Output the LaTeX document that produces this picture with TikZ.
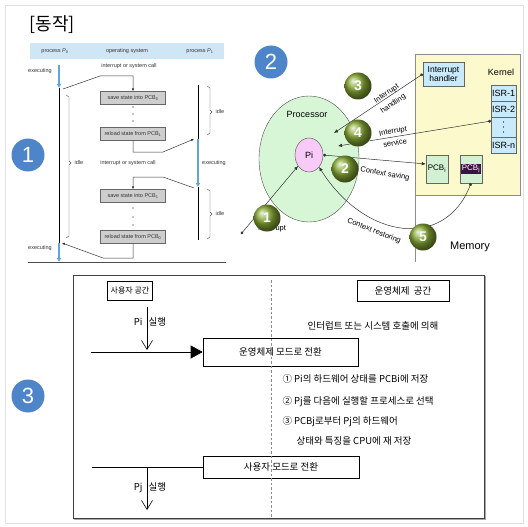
\documentclass[tikz,border=0pt]{standalone}
\usepackage{amsmath}
\usepackage{fontspec}
\setmainfont{Liberation Sans}
\newfontfamily\kr{Noto Sans CJK KR}
\usetikzlibrary{arrows.meta,shapes.geometric}

\definecolor{hdrblue}{RGB}{207,230,246}
\definecolor{stategray}{RGB}{206,206,206}
\definecolor{badgeblue}{RGB}{78,132,200}
\definecolor{ballgreen}{RGB}{136,170,52}
\definecolor{procgreen}{RGB}{214,246,214}
\definecolor{pipink}{RGB}{248,202,248}
\definecolor{kernyellow}{RGB}{252,250,204}
\definecolor{isrblue}{RGB}{200,234,250}
\definecolor{pcbgreen}{RGB}{210,240,210}
\definecolor{pcbpurple}{RGB}{64,16,64}
\definecolor{execblue}{RGB}{96,164,222}

\tikzset{
    badge/.style={circle, fill=badgeblue, text=white, minimum size=33pt, inner sep=0pt, font=\fontsize{22}{22}\selectfont},
    gball/.style={circle, shading=ball, ball color=ballgreen, text=white, minimum size=27pt, inner sep=0pt, font=\bfseries\fontsize{14}{14}\selectfont},
    smalltxt/.style={font=\fontsize{5.5}{6}\selectfont, text=black!80},
    statebox/.style={draw=black!60, fill=stategray, minimum width=65pt, minimum height=13pt, inner sep=0pt, smalltxt},
    exec/.style={draw=execblue, line width=2pt, -{Latex[length=4pt,width=5pt]}},
    flow/.style={black!80, line width=0.5pt, -{Latex[length=3pt,width=2.5pt]}},
    conn/.style={black!80, line width=0.5pt, {Circle[length=3pt]}-{Latex[length=4pt,width=3.5pt]}},
    lbl/.style={font=\fontsize{7.5}{8}\selectfont},
    isr/.style={draw=black!60, fill=isrblue, minimum width=25pt, minimum height=16pt, inner sep=0pt, font=\fontsize{9}{9}\selectfont},
    pcb/.style={draw=black!60, fill=pcbgreen, minimum width=22pt, minimum height=28pt, inner sep=0pt, font=\fontsize{8}{8}\selectfont},
    krtext/.style={font=\kr\fontsize{9.5}{10}\selectfont},
    krbox/.style={draw, line width=0.6pt, inner sep=0pt, krtext},
    vdown/.style={line width=0.6pt, -{Straight Barb[length=9pt,width=11pt]}},
}

\begin{document}
\begin{tikzpicture}[x=1pt, y=-1pt]
    \useasboundingbox (0,0) rectangle (528,527);
    \draw[black!12] (5,5) rectangle (523,523);

    % context switch timeline
    \node[font=\kr\fontsize{18}{18}\selectfont] (title) at (52,25) {[동작]};
    \fill[hdrblue] (30,43) rectangle (224,59);
    \node[smalltxt] (hp0) at (55,51) {process \textit{P}\textsubscript{0}};
    \node[smalltxt] (hos) at (127,51) {operating system};
    \node[smalltxt] (hp1) at (200,51) {process \textit{P}\textsubscript{1}};
    \node[smalltxt] (irq1) at (129,66) {interrupt or system call};
    \node[smalltxt] (irq2) at (128,163) {interrupt or system call};

    \node[statebox] (save0) at (133,98) {save state into PCB\textsubscript{0}};
    \node[statebox] (reload1) at (133,134) {reload state from PCB\textsubscript{1}};
    \node[statebox] (save1) at (133,196) {save state into PCB\textsubscript{1}};
    \node[statebox] (reload0) at (133,237) {reload state from PCB\textsubscript{0}};
    \foreach \y in {107,114,121,208,217,225}
        \fill (133,\y) circle[radius=0.7pt];

    \coordinate (p0top) at (59,65);
    \coordinate (p0a) at (59,88);
    \coordinate (p0b) at (59,243);
    \coordinate (p0bot) at (59,262);
    \coordinate (p1top) at (198,85);
    \coordinate (p1a) at (198,139);
    \coordinate (p1b) at (198,187);
    \coordinate (p1bot) at (198,240);
    \draw[exec] (p0top) -- (p0a);
    \draw[line width=1pt] (p0a) -- (p0b);
    \draw[exec] (p0b) -- (p0bot);
    \draw[line width=1pt] (p1top) -- (p1a);
    \draw[exec] (p1a) -- (p1b);
    \draw[line width=1pt] (p1b) -- (p1bot);
    \draw[black!70, line width=0.8pt] (28,262) -- (226,262);

    \node[smalltxt] (ex0) at (40,71) {executing};
    \node[smalltxt] (ex1) at (214,163) {executing};
    \node[smalltxt] (ex2) at (40,248) {executing};

    \coordinate (out0) at (63,89);
    \coordinate (in1) at (194,139);
    \coordinate (out1) at (194,188);
    \coordinate (in0) at (62,243);
    \draw[flow] (out0) -- (100,76) -| (save0.north);
    \draw[flow] (reload1.south) |- (163,152) -- (in1);
    \draw[flow] (out1) -- (163,177) -| (save1.north);
    \draw[flow] (reload0.south) |- (103,258) -- (in0);

    \draw[black!70, line width=0.4pt] (66,95) -- (69,97) -- (69,161) -- (71,163) -- (69,165) -- (69,236) -- (66,238);
    \draw[black!70, line width=0.4pt] (207,86) -- (210,88) -- (210,110) -- (212,112) -- (210,114) -- (210,133) -- (207,135);
    \draw[black!70, line width=0.4pt] (207,189) -- (210,191) -- (210,212) -- (212,214) -- (210,216) -- (210,237) -- (207,239);
    \node[smalltxt, anchor=west] (idle0) at (71,163) {idle};
    \node[smalltxt, anchor=west] (idle1) at (212,112) {idle};
    \node[smalltxt, anchor=west] (idle2) at (212,214) {idle};

    \node[badge] (n1) at (28,155) {1};

    % processor and memory
    \draw[black!45] (415,195) -- (415,262);
    \filldraw[draw=black!45, fill=kernyellow] (415,54) rectangle (520,195);
    \node[font=\fontsize{9}{9}\selectfont] (kernel) at (501,72) {Kernel};
    \node[draw=black!60, fill=isrblue, align=center, minimum width=41pt, minimum height=24pt, inner sep=0pt, font=\fontsize{8.5}{8.5}\selectfont] (handler) at (443.5,74) {Interrupt\\handler};
    \node[isr] (isr1) at (503.5,93) {ISR-1};
    \node[isr] (isr2) at (503.5,109) {ISR-2};
    \node[isr, minimum height=20pt] (isrdots) at (503.5,127) {};
    \node[isr] (isrn) at (503.5,145) {ISR-n};
    \foreach \y in {122,127,132}
        \fill (isrdots.center |- 0,\y) circle[radius=0.7pt];
    \node[pcb] (pcbi) at (437,169) {PCB\textsubscript{i}};
    \node[pcb] (pcbj) at (471,169) {};
    \node[fill=pcbpurple, text=white, inner sep=0.8pt, font=\fontsize{8}{8}\selectfont] (pcbjtag) at (pcbj) {PCB\textsubscript{j}};
    \node[font=\fontsize{11}{11}\selectfont] (memlbl) at (470,247) {Memory};

    \node[ellipse, draw=black!70, fill=procgreen, minimum width=100pt, minimum height=126pt] (proc) at (309,159) {};
    \node[font=\fontsize{9}{9}\selectfont] (proclbl) at (307,114) {Processor};
    \node[ellipse, draw=black!70, fill=pipink, minimum width=28pt, minimum height=34pt, inner sep=0pt, font=\fontsize{9}{9}\selectfont] (pi) at (309,155) {Pi};

    \coordinate (irqsrc) at (241,234);
    \coordinate (hdlin) at (334,133);
    \coordinate (svcsrc) at (491,121);
    \coordinate (svcin) at (338,146);
    \draw[conn] (irqsrc) -- (pi.225);
    \draw[conn] (handler.west) -- (hdlin);
    \draw[conn] (svcsrc) -- (svcin);
    \draw[conn] (pi.east) -- ([yshift=5pt]pcbi.west);
    \draw[conn] (pcbj.south) .. controls (445,250) and (365,240) .. (pi.-50);
    \node[lbl] (irqlbl) at (272,229) {Interrupt};
    \node[lbl, rotate=34, align=center, font=\fontsize{7.5}{12}\selectfont] (hdllbl) at (390,99) {Interrupt\\handling};
    \node[lbl, rotate=10, align=center, font=\fontsize{7.5}{12}\selectfont] (svclbl) at (394,137) {Interrupt\\service};
    \node[lbl, rotate=-10] (savelbl) at (385,174) {Context saving};
    \node[lbl, rotate=-22] (restlbl) at (374,231) {Context restoring};

    \node[gball] (b1) at (267,218) {1};
    \node[gball] (b2) at (345,169) {2};
    \node[gball] (b3) at (358,86) {3};
    \node[gball] (b4) at (358,133) {4};
    \node[gball] (b5) at (423,237) {5};
    \node[badge] (n2) at (271,62) {2};

    % user / kernel mode
    \node[badge] (n3) at (28,396) {3};
    \draw[black!75, line width=0.8pt] (73,275) rectangle (484,518);
    \draw[black!35, line width=1pt] (485,276) -- (485,519) -- (74,519);
    \node[krbox, minimum width=45pt, minimum height=19pt, font=\kr\fontsize{8}{8}\selectfont] (usersp) at (130,290.5) {사용자 공간};
    \node[krbox, minimum width=92pt, minimum height=21pt] (ossp) at (403,290.5) {운영체제 \ 공간};
    \node[krtext] (cause) at (373,326) {인터럽트 또는 시스템 호출에 의해};
    \node[krbox, minimum width=155pt, minimum height=28pt] (osmode) at (280.5,352) {운영체제 모드로 전환};
    \node[krbox, minimum width=156pt, minimum height=22pt] (usermode) at (281,467) {사용자 모드로 전환};
    \node[krtext, anchor=west] (step1) at (279,379) {① Pi의 하드웨어 상태를 PCBi에 저장};
    \node[krtext, anchor=west] (step2) at (279,402) {② Pj를 다음에 실행할 프로세스로 선택};
    \node[krtext, anchor=west] (step3) at (279,422) {③ PCBj로부터 Pj의 하드웨어};
    \node[krtext, anchor=west] (step3b) at (293,441) {상태와 특징을 CPU에 재 저장};

    \coordinate (entry) at (91,352);
    \coordinate (exit) at (92,467);
    \coordinate (pitop) at (147,307);
    \coordinate (pibot) at (147,350);
    \coordinate (pjtop) at (147,467);
    \coordinate (pjbot) at (147,510);
    \draw[line width=0.8pt, -{Triangle[length=12pt,width=13pt]}] (entry) -- (osmode.west);
    \draw[line width=0.8pt] (exit) -- (usermode.west);
    \draw[vdown] (pitop) -- (pibot);
    \draw[vdown] (pjtop) -- (pjbot);
    \node[krtext] (pirun) at (150,322) {Pi\hspace{6pt}실행};
    \node[krtext] (pjrun) at (150,488) {Pj\hspace{6pt}실행};
    \draw[black!45, dash pattern=on 2.5pt off 2pt, line width=0.6pt] (271,280) -- (271,517);
\end{tikzpicture}
\end{document}
